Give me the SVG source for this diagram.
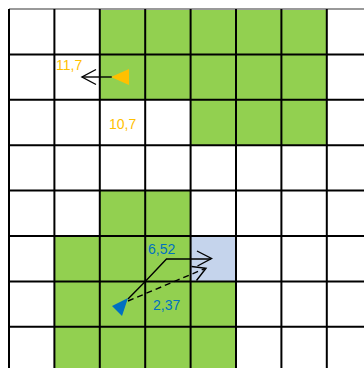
<svg xmlns="http://www.w3.org/2000/svg" width="364" height="368" viewBox="0 0 364 368">
<style>
.green{fill:#92D050}
.blue{fill:#C5D4EC}
.grid line{stroke:#000;stroke-width:2}
.conn{stroke:#000;stroke-width:1.4;fill:none}
.dash{stroke-dasharray:6,4}
.lbl{font-family:"Liberation Sans",Arial,sans-serif;font-size:14px}
.org{fill:#FFC000}
.blu{fill:#0070C0}
</style>
<rect width="364" height="368" fill="#fff"/>
<g id="cells">
<rect class="green" x="99.8" y="9" width="227" height="90.8"/>
<rect class="green" x="190.6" y="99.8" width="136.2" height="45.4"/>
<rect class="green" x="99.8" y="190.6" width="90.8" height="45.4"/>
<rect class="green" x="54.4" y="236" width="136.2" height="45.4"/>
<rect class="blue" x="190.6" y="236" width="45.4" height="45.4"/>
<rect class="green" x="54.4" y="281.4" width="181.6" height="86.6"/>
</g>
<g id="grid" class="grid">
<line x1="9" y1="9" x2="364" y2="9" style="stroke:#999"/>
<line x1="9" y1="54.4" x2="364" y2="54.4"/>
<line x1="9" y1="99.8" x2="364" y2="99.8"/>
<line x1="9" y1="145.2" x2="364" y2="145.2"/>
<line x1="9" y1="190.6" x2="364" y2="190.6"/>
<line x1="9" y1="236" x2="364" y2="236"/>
<line x1="9" y1="281.4" x2="364" y2="281.4"/>
<line x1="9" y1="326.8" x2="364" y2="326.8"/>
<line x1="9" y1="9" x2="9" y2="368"/>
<line x1="54.4" y1="9" x2="54.4" y2="368"/>
<line x1="99.8" y1="9" x2="99.8" y2="368"/>
<line x1="145.2" y1="9" x2="145.2" y2="368"/>
<line x1="190.6" y1="9" x2="190.6" y2="368"/>
<line x1="236" y1="9" x2="236" y2="368"/>
<line x1="281.4" y1="9" x2="281.4" y2="368"/>
<line x1="326.8" y1="9" x2="326.8" y2="368"/>
</g>
<g id="connectors">
<g id="orange-arrow">
<line class="conn" x1="82" y1="77" x2="112" y2="77"/>
<polyline class="conn" points="96,69.5 82,77 96,84.5"/>
<polygon points="111,77 129,69 129,85" fill="#FFC000"/>
</g>
<g id="blue-arrows">
<polyline class="conn" points="128,299 145.2,281.4 166.5,259 211,259"/>
<polyline class="conn" points="197,251 211.5,258.5 197.5,266"/>
<line class="conn dash" x1="128" y1="301" x2="205" y2="268.5"/>
<polyline class="conn" points="191.5,266.5 206,268.3 196.5,280.5"/>
<polygon points="112,306 128,298 122,316" fill="#0070C0"/>
</g>
</g>
<g id="labels" class="lbl">
<text class="org" x="56" y="70">11,7</text>
<text class="org" x="109" y="129">10,7</text>
<text class="blu" x="148" y="254">6,52</text>
<text class="blu" x="153" y="310">2,37</text>
</g>
</svg>
